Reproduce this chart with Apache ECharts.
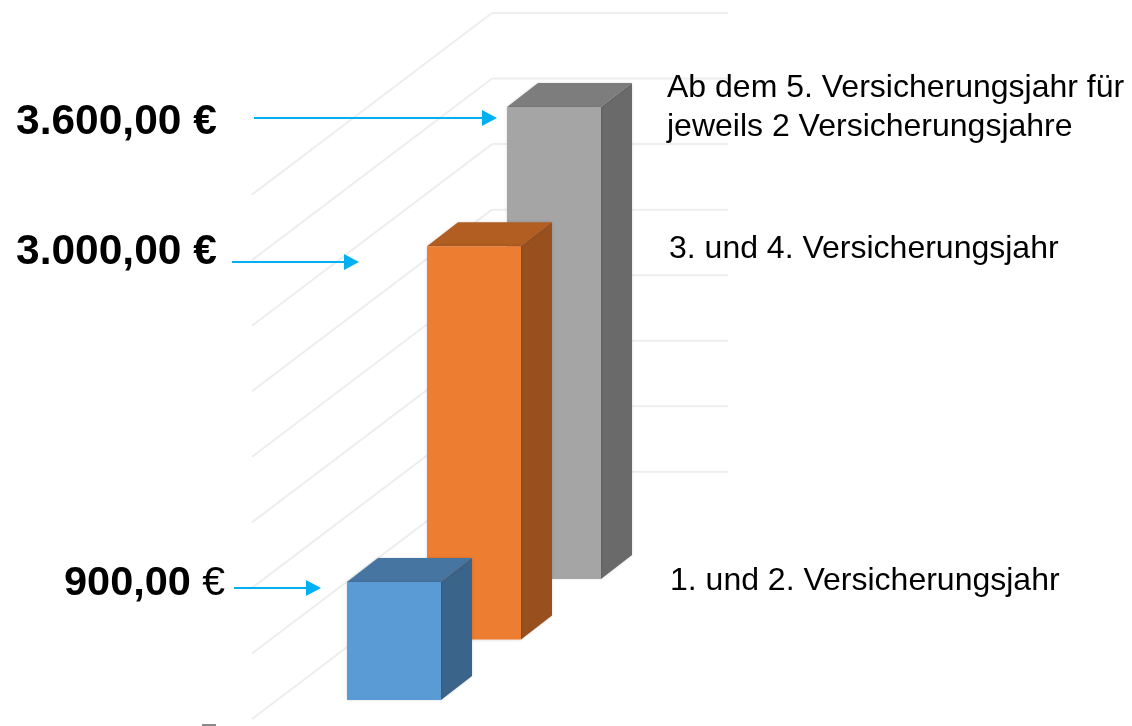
<!DOCTYPE html>
<html>
<head>
<meta charset="utf-8">
<style>
html, body { margin: 0; padding: 0; background: #fff; }
#main { width: 1132px; height: 726px; }
</style>
<script src="https://cdn.jsdelivr.net/npm/echarts@6/dist/echarts.min.js"></script>
</head>
<body>
<div id="main"></div>
<script>
var categories = ['1. und 2. Versicherungsjahr', '3. und 4. Versicherungsjahr', 'Ab dem 5. Versicherungsjahr für\njeweils 2 Versicherungsjahre'];
var values = [900, 3000, 3600];
var gridTicks = [0, 500, 1000, 1500, 2000, 2500, 3000, 3500, 4000];
var valueLabels = ['900,00', '3.000,00 €', '3.600,00 €'];

var fontName = '"Liberation Sans", Arial, sans-serif';
var faceColors = [
	{ front: '#5B9BD5', top: '#4675A1', side: '#3A6489' },
	{ front: '#ED7D31', top: '#B25E23', side: '#98501E' },
	{ front: '#A5A5A5', top: '#7D7D7D', side: '#6A6A6A' }
];
// schraege projektion der saeulen
var barW = 94, depthX = 31, depthY = 24, baseX = 394, shear = 0.756;

function renderGrid(params, api) {
	var val = api.value(1);
	var y = api.coord([0, val])[1];
	var style = { stroke: '#EEEEEE', lineWidth: 2 };
	var children = [{
		type: 'line',
		shape: { x1: 252, y1: y + 19, x2: 492, y2: y - 162.6 },
		style: style
	}];
	if (val > 0) {
		children.push({
			type: 'line',
			shape: { x1: 492, y1: y - 162.6, x2: 728, y2: y - 162.6 },
			style: style
		});
	}
	return { type: 'group', children: children };
}

function renderBar(params, api) {
	var cat = api.value(0);
	var top = api.coord([cat, api.value(1)]);
	var base = api.coord([cat, 0]);
	var shift = (top[0] - baseX) * shear;
	var x0 = top[0] - barW / 2, x1 = x0 + barW;
	var y0 = top[1] - shift, y1 = base[1] - shift;
	var c = faceColors[cat];
	var soft = { shadowBlur: 3, shadowColor: 'rgba(0,0,0,0.15)' };
	return {
		type: 'group',
		children: [
			{
				type: 'polygon',
				shape: { points: [[x1, y0], [x1 + depthX, y0 - depthY], [x1 + depthX, y1 - depthY], [x1, y1]] },
				style: Object.assign({ fill: c.side }, soft)
			},
			{
				type: 'polygon',
				shape: { points: [[x0, y0], [x0 + depthX, y0 - depthY], [x1 + depthX, y0 - depthY], [x1, y0]] },
				style: Object.assign({ fill: c.top }, soft)
			},
			{
				type: 'rect',
				shape: { x: x0, y: y0, width: barW, height: y1 - y0 },
				style: Object.assign({ fill: c.front }, soft)
			}
		]
	};
}

function arrow(x1, x2, y) {
	return [
		{
			type: 'line',
			z: 10,
			shape: { x1: x1, y1: y, x2: x2 - 14, y2: y },
			style: { stroke: '#00B0F0', lineWidth: 2 }
		},
		{
			type: 'polygon',
			z: 10,
			shape: { points: [[x2 - 15, y - 8], [x2, y], [x2 - 15, y + 8]] },
			style: { fill: '#00B0F0' }
		}
	];
}

function bigText(txt, x, y) {
	return {
		type: 'text', x: x, y: y, z: 10,
		style: { text: txt, fill: '#000', font: 'bold 42.5px ' + fontName, textVerticalAlign: 'middle' }
	};
}

function catText(txt, x, y) {
	return {
		type: 'text', x: x, y: y, z: 10,
		style: { text: txt, fill: '#000', font: '32px ' + fontName, lineHeight: 39, textVerticalAlign: 'middle' }
	};
}

var chart = echarts.init(document.getElementById('main'));
var option = {
	animation: false,
	backgroundColor: '#fff',
	grid: { left: 354, right: 538, top: 175.6, bottom: 26 },
	xAxis: { type: 'category', data: categories, show: false },
	yAxis: { type: 'value', min: 0, max: 4000, interval: 500, show: false },
	series: [
		{
			type: 'custom',
			z: 1,
			silent: true,
			clip: false,
			renderItem: renderGrid,
			data: gridTicks.map(function (v) { return [0, v]; })
		},
		{
			type: 'custom',
			z: 2,
			clip: false,
			renderItem: renderBar,
			// von hinten nach vorne zeichnen
			data: [2, 1, 0].map(function (i) { return [i, values[i]]; })
		}
	],
	graphic: {
		elements: [
			bigText(valueLabels[2], 16, 122),
			bigText(valueLabels[1], 16, 252),
			{
				type: 'text', x: 64, y: 584, z: 10,
				style: {
					text: '{b|' + valueLabels[0] + '}{r| €}',
					textVerticalAlign: 'middle',
					rich: {
						b: { font: 'bold 41.5px ' + fontName, fill: '#000' },
						r: { font: '41px ' + fontName, fill: '#000' }
					}
				}
			},
			catText(categories[2], 667, 108),
			catText(categories[1], 669, 249),
			catText(categories[0], 670, 581),
			{
				type: 'line',
				shape: { x1: 202, y1: 725, x2: 216, y2: 725 },
				style: { stroke: '#8A8A8A', lineWidth: 2 }
			}
		].concat(arrow(254, 497, 118), arrow(232, 359, 262), arrow(234, 321, 588))
	}
};
if (option)
	chart.setOption(option);
</script>
</body>
</html>
